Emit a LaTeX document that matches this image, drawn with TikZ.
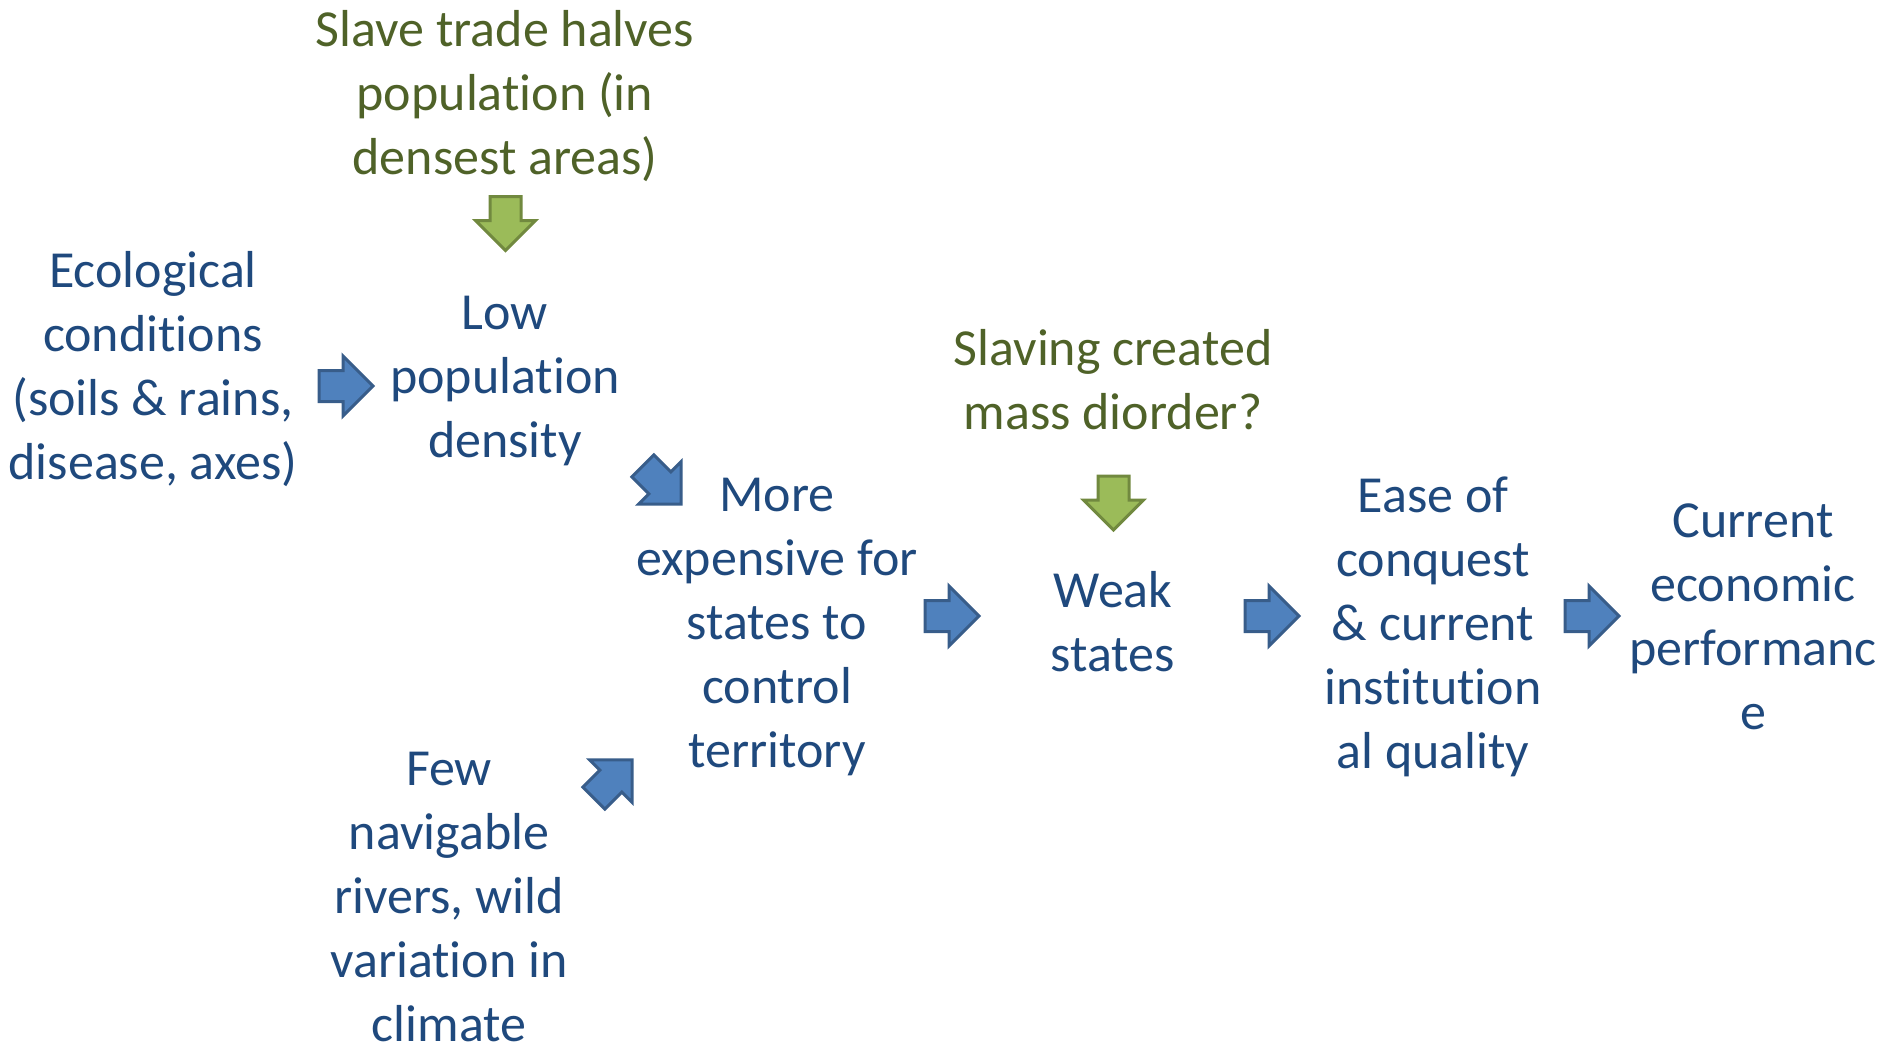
\documentclass[tikz,border=0pt]{standalone}
\usepackage{fontspec}
\setmainfont{Carlito}[Ligatures=NoCommon]
\definecolor{bluetext}{HTML}{1F497D}
\definecolor{greentext}{HTML}{4F6228}
\definecolor{bluefill}{HTML}{4F81BD}
\definecolor{blueline}{HTML}{385D8A}
\definecolor{greenfill}{HTML}{9BBB59}
\definecolor{greenline}{HTML}{71893F}
\tikzset{
  lbl/.style={align=center, inner sep=0pt, font=\fontsize{52}{64}\selectfont},
  bluelbl/.style={lbl, text=bluetext},
  greenlbl/.style={lbl, text=greentext},
  bluearrow/.style={fill=bluefill, draw=blueline, line width=3pt, line join=miter},
  greenarrow/.style={fill=greenfill, draw=greenline, line width=3pt, line join=miter},
  blockarrow/.pic={\path[pic actions] (-27,-15.5) -- (-3,-15.5) -- (-3,-30) -- (27,0) -- (-3,30) -- (-3,15.5) -- (-27,15.5) -- cycle;}
}
\begin{document}
\begin{tikzpicture}[x=1pt,y=1pt]
\useasboundingbox (0,0) rectangle (1887,-1045);
\node[bluelbl] (eco) at (153,-369) {Ecological\\conditions\\(soils \& rains,\\disease, axes)};
\node[bluelbl] (lowpop) at (505,-381) {Low\\population\\density};
\node[greenlbl] (slave) at (505,-96) {Slave trade halves\\population (in\\densest areas)};
\node[bluelbl] (expensive) at (777,-627) {More\\expensive for\\states to\\control\\territory};
\node[bluelbl] (rivers) at (449,-897) {Few\\navigable\\rivers, wild\\variation in\\climate};
\node[greenlbl] (slaving) at (1113,-380) {Slaving created\\mass diorder?};
\node[bluelbl] (weak) at (1113,-622) {Weak\\states};
\node[bluelbl] (ease) at (1433,-627) {Ease of\\conquest\\\& current\\institution\\al quality};
\node[bluelbl] (current) at (1753,-617) {Current\\economic\\performanc\\e};
% block arrows between the nodes
\coordinate (a1) at (346,-386);
\coordinate (a2) at (662,-485);
\coordinate (a3) at (613,-779);
\coordinate (a4) at (952,-616);
\coordinate (a5) at (1272,-616);
\coordinate (a6) at (1592,-616);
\coordinate (g1) at (505.5,-223.5);
\coordinate (g2) at (1113.5,-503);
\pic[bluearrow] at (a1) {blockarrow};
\pic[bluearrow, rotate=-45] at (a2) {blockarrow};
\pic[bluearrow, rotate=45] at (a3) {blockarrow};
\pic[bluearrow] at (a4) {blockarrow};
\pic[bluearrow] at (a5) {blockarrow};
\pic[bluearrow] at (a6) {blockarrow};
\pic[greenarrow, rotate=-90] at (g1) {blockarrow};
\pic[greenarrow, rotate=-90] at (g2) {blockarrow};
\end{tikzpicture}
\end{document}
